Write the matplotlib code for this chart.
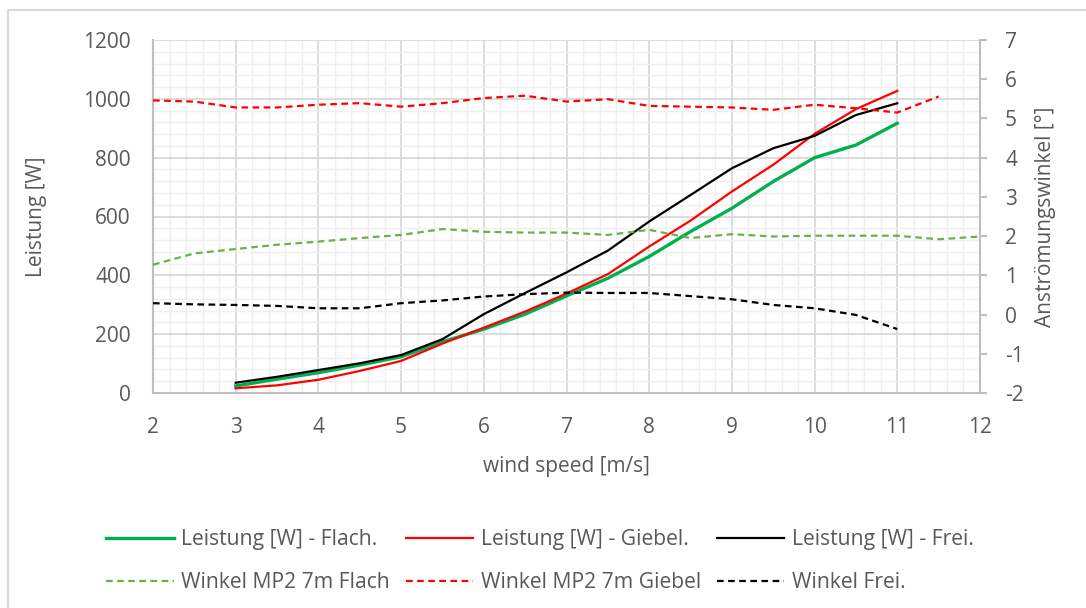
import matplotlib.pyplot as plt
from matplotlib.patches import Rectangle
from matplotlib.ticker import MultipleLocator

plt.rcParams['font.family'] = ['Open Sans', 'DejaVu Sans']
plt.rcParams['axes.unicode_minus'] = False

# -------------------------------------------------------
# DATA
# -------------------------------------------------------

wind_power = [3, 3.5, 4, 4.5, 5, 5.5, 6, 6.5, 7, 7.5, 8, 8.5, 9, 9.5, 10, 10.5, 11]

leistung_flach = [24, 47, 69, 95, 123, 174, 217, 268, 330, 390, 464, 549, 628, 719, 800, 843, 917]
leistung_giebel = [16, 26, 45, 75, 109, 168, 222, 277, 338, 404, 498, 586, 685, 776, 881, 965, 1027]
leistung_frei = [35, 55, 78, 101, 129, 183, 268, 340, 410, 484, 583, 673, 764, 832, 874, 945, 985]

wind_flach = [2, 2.5, 3, 3.5, 4, 4.5, 5, 5.5, 6, 6.5, 7, 7.5, 8, 8.5, 9, 9.5, 10, 10.5, 11, 11.5, 12]
winkel_flach = [1.27, 1.56, 1.67, 1.78, 1.86, 1.95, 2.03, 2.18, 2.11, 2.09, 2.09,
                2.03, 2.16, 1.95, 2.05, 1.99, 2.01, 2.01, 2.01, 1.92, 1.99]

wind_giebel = [2, 2.5, 3, 3.5, 4, 4.5, 5, 5.5, 6, 6.5, 7, 7.5, 8, 8.5, 9, 9.5, 10, 10.5, 11, 11.5]
winkel_giebel = [5.46, 5.43, 5.28, 5.28, 5.35, 5.39, 5.30, 5.39, 5.52, 5.58, 5.43,
                 5.49, 5.32, 5.30, 5.28, 5.22, 5.35, 5.26, 5.15, 5.56]

wind_frei = [2, 2.5, 3, 3.5, 4, 4.5, 5, 5.5, 6, 6.5, 7, 7.5, 8, 8.5, 9, 9.5, 10, 10.5, 11]
winkel_frei = [0.29, 0.26, 0.245, 0.22, 0.16, 0.16, 0.29, 0.36, 0.46, 0.52, 0.56,
               0.55, 0.55, 0.47, 0.39, 0.245, 0.16, -0.01, -0.37]

labels = ["Leistung [W] - Flach.", "Leistung [W] - Giebel.", "Leistung [W] - Frei.",
          "Winkel MP2 7m Flach", "Winkel MP2 7m Giebel", "Winkel Frei."]

# -------------------------------------------------------
# STYLE
# -------------------------------------------------------

text_col = "#595959"
axis_col = "#BFBFBF"
major_col = "#D9D9D9"
minor_col = "#EFEFEF"
fs = 15

fig = plt.figure(figsize=(10.86, 6.08), dpi=100)

# outer chart frame
fig.patches.append(Rectangle((8 / 1086, -0.02), 1.1, 0.02 + 598 / 608,
                             transform=fig.transFigure, fill=False,
                             edgecolor=major_col, linewidth=1.5))

ax = fig.add_axes([153 / 1086, 215 / 608, 827 / 1086, 353 / 608])
ax2 = ax.twinx()

# -------------------------------------------------------
# PLOT
# -------------------------------------------------------

h_lf, = ax.plot(wind_power, leistung_flach, color="#00B050", lw=2.4)
h_lg, = ax.plot(wind_power, leistung_giebel, color="#FF0000", lw=1.6)
h_lfr, = ax.plot(wind_power, leistung_frei, color="#000000", lw=1.6)

h_wf, = ax2.plot(wind_flach, winkel_flach, color="#70AD47", lw=1.6, ls=(0, (3, 2)))
h_wg, = ax2.plot(wind_giebel, winkel_giebel, color="#FF0000", lw=1.6, ls=(0, (3, 2)))
h_wfr, = ax2.plot(wind_frei, winkel_frei, color="#000000", lw=1.6, ls=(0, (3, 2)))

ax.set_xlim(2, 12)
ax.set_ylim(0, 1200)
ax2.set_ylim(-2, 7)

ax.xaxis.set_major_locator(MultipleLocator(1))
ax.xaxis.set_minor_locator(MultipleLocator(0.2))
ax.yaxis.set_major_locator(MultipleLocator(200))
ax.yaxis.set_minor_locator(MultipleLocator(40))
ax2.yaxis.set_major_locator(MultipleLocator(1))

ax.grid(True, which="minor", color=minor_col, lw=1.0)
ax.grid(True, which="major", color=major_col, lw=1.3)
ax.set_axisbelow(True)

for a in (ax, ax2):
    for s in a.spines.values():
        s.set_visible(False)
for side in ("left", "bottom"):
    ax.spines[side].set_visible(True)
    ax.spines[side].set_color(axis_col)
    ax.spines[side].set_linewidth(1.5)
ax2.spines["right"].set_visible(True)
ax2.spines["right"].set_color(axis_col)
ax2.spines["right"].set_linewidth(1.5)

ax.tick_params(axis="both", which="both", length=0, labelsize=fs, labelcolor=text_col)
ax.tick_params(axis="y", pad=16)
ax.tick_params(axis="x", pad=17)
ax2.tick_params(axis="y", which="major", direction="out", length=5, width=1.5,
                color=axis_col, labelsize=fs, labelcolor=text_col, pad=13)
ax2.tick_params(axis="y", which="minor", length=0)

ax.set_xlabel("wind speed [m/s]", fontsize=fs, color=text_col, labelpad=13)
ax.set_ylabel("Leistung [W]", fontsize=fs, color=text_col, labelpad=26)
ax2.set_ylabel("Anströmungswinkel [°]", fontsize=fs, color=text_col, labelpad=8)

handles = [h_lf, h_wf, h_lg, h_wg, h_lfr, h_wfr]
leg_labels = [labels[0], labels[3], labels[1], labels[4], labels[2], labels[5]]
leg = fig.legend(handles, leg_labels, ncol=3, loc="center",
                 bbox_to_anchor=(0.497, 0.077), frameon=False, fontsize=15.2,
                 handlelength=3.2, handletextpad=0.35, columnspacing=0.75,
                 labelspacing=1.05)
for t in leg.get_texts():
    t.set_color(text_col)

fig.savefig("out.png", dpi=100)
